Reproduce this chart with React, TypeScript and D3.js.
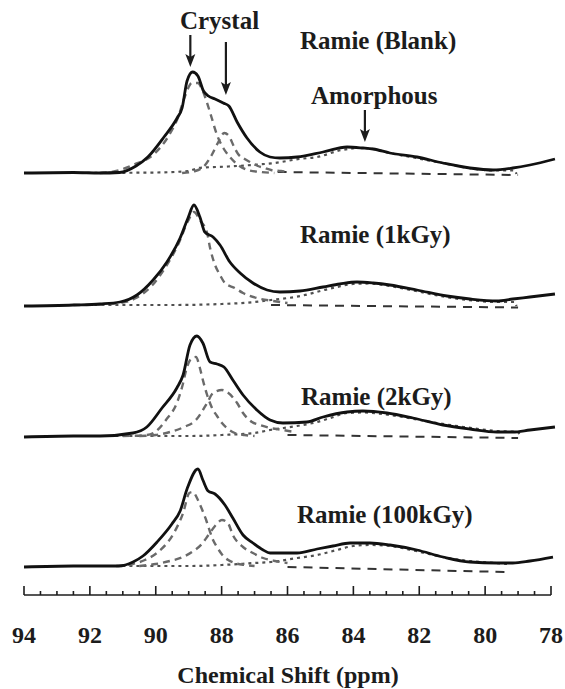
import React from 'react';
import * as d3 from 'd3';

type Pt = [number, number]; // [chemical shift (ppm), intensity (a.u.)]

// Axis
const TICK_LABELS = [94, 92, 90, 88, 86, 84, 82, 80, 78];
const MINOR_STEP = 0.5;
const AXIS_TITLE = 'Chemical Shift (ppm)';

// Sample names
const SAMPLE_NAMES = ['Ramie (Blank)', 'Ramie (1kGy)', 'Ramie (2kGy)', 'Ramie (100kGy)'];

// Annotation positions (ppm)
const crystalArrowPpm = [88.95, 87.87];
const amorphousArrowPpm = [83.65];

// ---- Ramie (Blank) ----
const blankObserved: Pt[] = [
  [94.0, 0], [92.5, 0.5], [91.7, 0], [91.1, 0.5], [90.6, 7], [90.24, 16], [89.75, 36],
  [89.35, 55], [89.2, 65], [89.05, 92], [88.88, 101], [88.72, 97], [88.55, 82], [88.4, 77],
  [88.2, 74], [87.95, 70], [87.78, 67], [87.53, 51], [87.23, 35], [86.84, 21], [86.53, 16],
  [86.23, 15], [85.71, 16], [84.92, 21], [84.19, 26], [83.71, 25], [83.4, 24], [82.89, 20],
  [82.07, 16], [81.28, 10], [80.46, 5], [79.76, 3], [79.16, 5], [78.64, 8], [77.88, 14],
];
const blankCrystalA: Pt[] = [
  [91.7, 0], [91.2, 2], [90.69, 8], [90.02, 20], [89.63, 36], [89.32, 56], [89.11, 77],
  [88.9, 90], [88.72, 90], [88.6, 84], [88.45, 71], [88.3, 55], [88.14, 38], [87.95, 25],
  [87.75, 16], [87.5, 8], [87.2, 3], [86.8, 1], [86.4, 0],
];
const blankCrystalB: Pt[] = [
  [89.2, 0], [88.8, 2], [88.5, 8], [88.3, 18], [88.1, 31], [87.92, 40], [87.78, 37],
  [87.62, 26], [87.5, 19], [87.3, 14], [87.14, 11], [86.9, 7], [86.7, 5], [86.5, 3],
  [86.2, 2], [86.0, 1],
];
const blankAmorphous: Pt[] = [
  [92.5, 0], [90.0, 0.5], [89.0, 2], [88.7, 5], [87.8, 6.5], [87.1, 8], [86.4, 10],
  [85.65, 14], [85.1, 16], [84.35, 23], [83.8, 25], [83.4, 24], [82.9, 20], [82.1, 15],
  [81.3, 10], [80.5, 5], [79.7, 2.5], [79.1, 2.5], [79.05, -1],
];
const blankBase: Pt[] = [[86.3, 1], [79.0, -2]];

// ---- Ramie (1kGy) ----
const kGy1Observed: Pt[] = [
  [94.0, -1], [92.5, 0], [91.69, 1], [91.09, 3], [90.57, 10], [90.08, 25], [89.66, 43],
  [89.26, 67], [89.02, 87], [88.84, 100], [88.66, 88], [88.51, 73], [88.26, 68], [88.05, 60],
  [87.75, 43], [87.44, 32], [87.05, 22], [86.62, 15], [86.23, 13], [85.62, 14], [84.92, 18],
  [84.41, 21], [83.89, 23], [83.4, 22], [82.89, 20], [82.07, 15], [81.16, 9], [80.46, 6],
  [79.64, 4], [79.16, 6], [78.64, 8], [77.88, 11],
];
const kGy1CrystalA: Pt[] = [
  [92.5, 0], [91.69, 0.5], [91.09, 2], [90.6, 7], [90.1, 20], [89.7, 38], [89.3, 62],
  [89.02, 84], [88.84, 93], [88.66, 85], [88.44, 72], [88.35, 57], [88.2, 40], [88.05, 30],
  [87.9, 22], [87.6, 17], [87.35, 12], [86.93, 7], [86.44, 4], [86.0, 2],
];
const kGy1Amorphous: Pt[] = [
  [92.5, 0], [89.5, 0], [88.0, 1], [87.0, 3], [86.5, 5], [85.6, 9], [85.0, 14], [84.5, 18],
  [84.0, 21], [83.5, 21.5], [82.9, 19], [82.1, 14], [81.2, 8], [80.5, 5], [79.6, 3],
  [79.1, 3], [79.05, -1],
];
const kGy1Base: Pt[] = [[86.5, 0], [79.0, -2.5]];

// ---- Ramie (2kGy) ----
const kGy2Observed: Pt[] = [
  [94.0, -1], [92.5, 0], [91.69, 0], [90.69, 3], [90.27, 9], [89.81, 28], [89.36, 48],
  [89.17, 61], [88.96, 91], [88.75, 100], [88.57, 93], [88.35, 74], [88.14, 72], [87.93, 69],
  [87.66, 56], [87.35, 41], [86.93, 26], [86.53, 16], [86.14, 13], [85.41, 14], [84.92, 19],
  [84.19, 24], [83.71, 25], [82.98, 23], [82.19, 18], [81.28, 11], [80.46, 7], [79.64, 4],
  [79.16, 4], [78.64, 6], [77.88, 9],
];
const kGy2CrystalA: Pt[] = [
  [91.0, 0], [90.27, 1], [90.02, 4], [89.69, 16], [89.36, 33], [89.2, 49], [89.05, 69],
  [88.9, 78], [88.78, 79], [88.66, 68], [88.57, 56], [88.44, 41], [88.29, 28], [88.14, 20],
  [87.99, 13], [87.8, 7], [87.6, 3], [87.3, 1], [87.0, 0],
];
const kGy2CrystalB: Pt[] = [
  [90.5, 0], [90.0, 1], [89.57, 4], [89.14, 9], [88.78, 16], [88.44, 33], [88.26, 43],
  [87.99, 46], [87.84, 44], [87.53, 33], [87.35, 23], [87.08, 14], [86.84, 11], [86.53, 8],
  [86.14, 6], [85.8, 4],
];
const kGy2Amorphous: Pt[] = [
  [92.5, 0], [89.0, 0], [88.0, 1], [87.0, 3], [86.53, 6], [85.71, 10], [85.1, 14], [84.7, 18],
  [84.19, 23], [83.71, 23.5], [82.68, 20], [81.65, 14], [80.65, 9], [79.64, 5], [79.0, 4],
  [78.95, 0],
];
const kGy2Base: Pt[] = [[86.0, 1], [79.0, -2]];

// ---- Ramie (100kGy) ----
const kGy100Observed: Pt[] = [
  [94.0, -1], [92.5, 0], [91.12, 0], [90.69, 4], [90.39, 10], [89.96, 24], [89.51, 42],
  [89.26, 55], [89.05, 77], [88.72, 97], [88.57, 86], [88.41, 75], [88.2, 72], [87.9, 61],
  [87.66, 48], [87.35, 31], [87.05, 23], [86.74, 16], [86.53, 13], [85.71, 13], [85.1, 17],
  [84.62, 20], [84.1, 23], [83.5, 23], [82.89, 21], [82.07, 16], [81.28, 9], [80.46, 4],
  [79.64, 3], [79.16, 3], [78.64, 5], [77.94, 9],
];
const kGy100CrystalA: Pt[] = [
  [91.2, 0], [90.7, 2], [90.33, 6], [89.93, 14], [89.45, 33], [89.17, 53], [88.98, 73],
  [88.88, 74], [88.72, 66], [88.6, 57], [88.47, 46], [88.35, 34], [88.26, 26], [88.14, 19],
  [88.0, 12], [87.8, 6], [87.6, 3], [87.3, 1], [87.0, 0],
];
const kGy100CrystalB: Pt[] = [
  [90.5, 0], [90.0, 2], [89.57, 5], [89.17, 9], [88.9, 14], [88.6, 22], [88.4, 31],
  [88.2, 40], [87.99, 46], [87.81, 43], [87.66, 31], [87.35, 19], [87.05, 13], [86.74, 8],
  [86.38, 5], [86.0, 3],
];
const kGy100Amorphous: Pt[] = [
  [92.5, 0], [89.0, 0], [88.0, 1], [87.0, 3], [86.5, 4], [85.7, 8], [85.1, 11], [84.5, 16],
  [84.0, 20], [83.5, 21], [82.9, 20], [82.1, 15], [81.3, 9], [80.5, 5], [79.7, 3], [79.3, 2],
  [79.25, 0],
];
const kGy100Base: Pt[] = [[86.0, -1], [79.4, -6]];

const FONT = 'Liberation Serif';
const INK = '#1c1c1c';

const W = 565;
const H = 689;

export default function App() {
  const x = d3.scaleLinear().domain([94, 78]).range([24, 551]);
  const axisY = 595;

  const panels = [
    { name: SAMPLE_NAMES[0], observed: blankObserved, crystal: [blankCrystalA, blankCrystalB], amorphous: blankAmorphous, base: blankBase, zero: 173, labelX: 300, labelY: 49 },
    { name: SAMPLE_NAMES[1], observed: kGy1Observed, crystal: [kGy1CrystalA], amorphous: kGy1Amorphous, base: kGy1Base, zero: 305, labelX: 300, labelY: 243 },
    { name: SAMPLE_NAMES[2], observed: kGy2Observed, crystal: [kGy2CrystalA, kGy2CrystalB], amorphous: kGy2Amorphous, base: kGy2Base, zero: 436, labelX: 301, labelY: 405 },
    { name: SAMPLE_NAMES[3], observed: kGy100Observed, crystal: [kGy100CrystalA, kGy100CrystalB], amorphous: kGy100Amorphous, base: kGy100Base, zero: 566, labelX: 297, labelY: 523 },
  ];

  const ticks = d3.range(78, 94 + 1e-6, MINOR_STEP);

  const arrow = (px: number, y1: number, y2: number, key: string) => (
    <g key={key}>
      <line x1={px} x2={px} y1={y1} y2={y2 - 10} stroke={INK} strokeWidth={2.2} />
      <path d={`M${px},${y2} L${px - 5},${y2 - 13} L${px},${y2 - 10} L${px + 5},${y2 - 13} Z`} fill={INK} />
    </g>
  );

  return (
    <svg width={W} height={H} style={{ position: 'absolute', left: 0, top: 0, background: '#fff' }}>
      <rect width={W} height={H} fill="#fff" />

      {panels.map((p) => {
        const y = d3.scaleLinear().domain([0, 100]).range([p.zero, p.zero - 100]);
        const line = d3.line<Pt>().x((d) => x(d[0])).y((d) => y(d[1])).curve(d3.curveMonotoneX);
        const straight = d3.line<Pt>().x((d) => x(d[0])).y((d) => y(d[1]));
        return (
          <g key={p.name}>
            <path d={straight(p.base) || ''} fill="none" stroke="#333" strokeWidth={2} strokeDasharray="9 7" />
            <path d={line(p.amorphous) || ''} fill="none" stroke="#505050" strokeWidth={2.2} strokeDasharray="3 4" />
            {p.crystal.map((c, i) => (
              <path key={i} d={line(c) || ''} fill="none" stroke="#6a6a6a" strokeWidth={2.4} strokeDasharray="7 5" />
            ))}
            <path d={line(p.observed) || ''} fill="none" stroke="#111" strokeWidth={2.8} strokeLinejoin="round" />
            <text x={p.labelX} y={p.labelY} fontFamily={FONT} fontWeight="bold" fontSize={25} fill={INK}>
              {p.name}
            </text>
          </g>
        );
      })}

      {/* Peak assignments */}
      <text x={219.5} y={29} textAnchor="middle" fontFamily={FONT} fontWeight="bold" fontSize={25} fill={INK}>
        Crystal
      </text>
      {arrow(x(crystalArrowPpm[0]), 35, 67, 'c1')}
      {arrow(x(crystalArrowPpm[1]), 42, 95, 'c2')}
      <text x={311} y={104} fontFamily={FONT} fontWeight="bold" fontSize={25} fill={INK}>
        Amorphous
      </text>
      {arrow(x(amorphousArrowPpm[0]), 110, 142, 'a1')}

      {/* Chemical shift axis */}
      <line x1={x(94)} x2={x(78)} y1={axisY} y2={axisY} stroke={INK} strokeWidth={1.6} />
      {ticks.map((t) => {
        const major = Math.abs(t % 2) < 1e-6;
        return (
          <line key={t} x1={x(t)} x2={x(t)} y1={axisY} y2={axisY - (major ? 9 : 4)} stroke={INK} strokeWidth={1.6} />
        );
      })}
      {TICK_LABELS.map((t) => (
        <text key={t} x={x(t)} y={643} textAnchor="middle" fontFamily={FONT} fontWeight="bold" fontSize={24} fill={INK}>
          {t}
        </text>
      ))}
      <text x={288} y={683} textAnchor="middle" fontFamily={FONT} fontWeight="bold" fontSize={24} fill={INK}>
        {AXIS_TITLE}
      </text>
    </svg>
  );
}
